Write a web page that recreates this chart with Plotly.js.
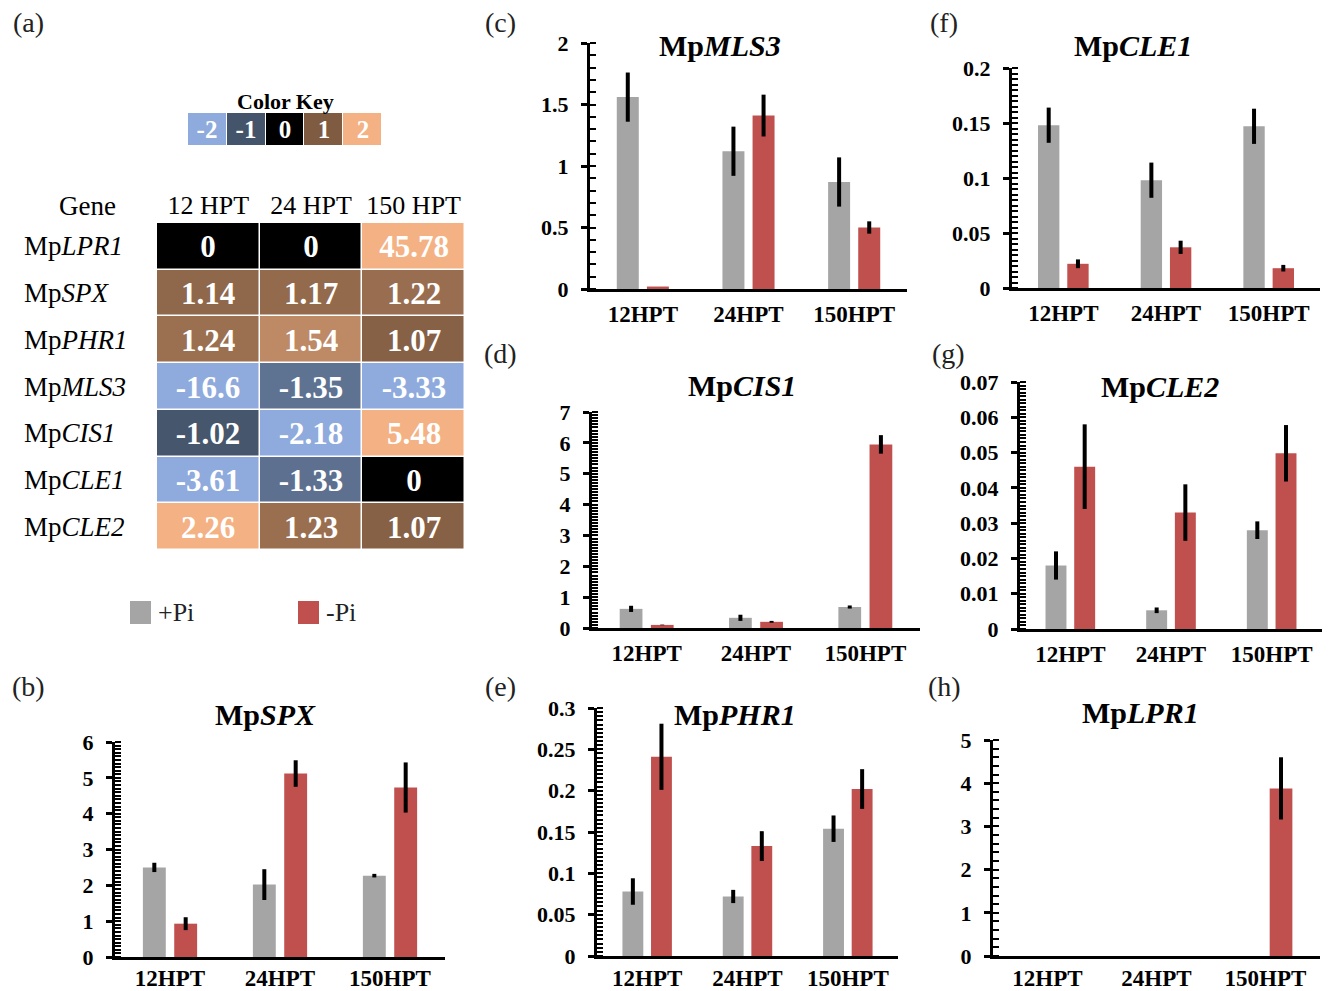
<!DOCTYPE html>
<html>
<head>
<meta charset="utf-8">
<script src="https://cdn.plot.ly/plotly-3.0.1.min.js"></script>
<style>html,body{margin:0;padding:0;background:#fff;}#chart{width:1330px;height:991px;}</style>
</head>
<body>
<div id="chart"></div>
<script>
// ---------- data ----------
const timepoints = ['12HPT', '24HPT', '150HPT'];

const spxPlus = [2.50, 2.02, 2.27];      const spxPlusErr = [0.13, 0.43, 0.05];
const spxMinus = [0.93, 5.12, 4.73];     const spxMinusErr = [0.18, 0.37, 0.70];

const mls3Plus = [1.56, 1.12, 0.87];     const mls3PlusErr = [0.20, 0.20, 0.20];
const mls3Minus = [0.02, 1.41, 0.50];    const mls3MinusErr = [0.0, 0.17, 0.05];

const cis1Plus = [0.62, 0.33, 0.68];     const cis1PlusErr = [0.10, 0.10, 0.05];
const cis1Minus = [0.10, 0.20, 5.95];    const cis1MinusErr = [0.01, 0.03, 0.30];

const phr1Plus = [0.078, 0.072, 0.154];  const phr1PlusErr = [0.016, 0.008, 0.016];
const phr1Minus = [0.241, 0.133, 0.202]; const phr1MinusErr = [0.040, 0.018, 0.024];

const cle1Plus = [0.148, 0.098, 0.147];  const cle1PlusErr = [0.016, 0.016, 0.016];
const cle1Minus = [0.022, 0.037, 0.018]; const cle1MinusErr = [0.004, 0.006, 0.003];

const cle2Plus = [0.018, 0.0053, 0.028]; const cle2PlusErr = [0.004, 0.0008, 0.0025];
const cle2Minus = [0.046, 0.033, 0.0498];const cle2MinusErr = [0.012, 0.008, 0.008];

const lpr1Plus = [0, 0, 0];              const lpr1PlusErr = [0, 0, 0];
const lpr1Minus = [0, 0, 3.88];          const lpr1MinusErr = [0, 0, 0.72];

const heatGenes = ['LPR1', 'SPX', 'PHR1', 'MLS3', 'CIS1', 'CLE1', 'CLE2'];
const heatCols = ['12 HPT', '24 HPT', '150 HPT'];
const heatText = [
  ['0', '0', '45.78'],
  ['1.14', '1.17', '1.22'],
  ['1.24', '1.54', '1.07'],
  ['-16.6', '-1.35', '-3.33'],
  ['-1.02', '-2.18', '5.48'],
  ['-3.61', '-1.33', '0'],
  ['2.26', '1.23', '1.07']
];
const keyValues = [-2, -1, 0, 1, 2];
const seriesNames = ['+Pi', '-Pi'];

// ---------- styling ----------
const W = 1330, H = 991;
const SERIF = 'Liberation Serif, Times New Roman, serif';
const GRAY = '#A5A5A5', RED = '#C0504D';
const px = v => v / W;
const py = v => 1 - v / H;

// panels: [key, gene, plus, plusErr, minus, minusErr, yMax, dtick, minorDtick, box(x0,x1,yTop,yBottom), titlePos, xLabelStandoff]
const panels = [
  ['1', 'SPX', spxPlus, spxPlusErr, spxMinus, spxMinusErr, 6, 1, 0.1, [115, 445, 742, 957], [265, 714], -2],
  ['2', 'MLS3', mls3Plus, mls3PlusErr, mls3Minus, mls3MinusErr, 2, 0.5, 0.1, [590, 907, 43, 289], [720, 46], 2],
  ['3', 'CIS1', cis1Plus, cis1PlusErr, cis1Minus, cis1MinusErr, 7, 1, 0.1, [592, 920, 412, 628], [742, 385], 2],
  ['4', 'PHR1', phr1Plus, phr1PlusErr, phr1Minus, phr1MinusErr, 0.3, 0.05, 0.005, [597, 898, 708, 956], [735, 714], -1],
  ['5', 'CLE1', cle1Plus, cle1PlusErr, cle1Minus, cle1MinusErr, 0.2, 0.05, 0.005, [1012, 1320, 68, 288], [1133, 45], 2],
  ['6', 'CLE2', cle2Plus, cle2PlusErr, cle2Minus, cle2MinusErr, 0.07, 0.01, 0.001, [1020, 1322, 382, 629], [1160, 387], 2],
  ['7', 'LPR1', lpr1Plus, lpr1PlusErr, lpr1Minus, lpr1MinusErr, 5, 1, 0.2, [993, 1320, 740, 956], [1140, 712], -1]
];

const data = [];
const layout = {
  width: W, height: H,
  margin: {l: 0, r: 0, t: 0, b: 0},
  paper_bgcolor: '#fff', plot_bgcolor: 'rgba(0,0,0,0)',
  showlegend: false,
  barmode: 'group',
  bargap: 0.43,
  bargroupgap: 0.27,
  font: {family: SERIF, color: '#000'},
  annotations: [],
  shapes: []
};

panels.forEach(p => {
  const [k, gene, plus, plusErr, minus, minusErr, yMax, dtick, minor, box, tpos, xso] = p;
  const xa = 'x' + (k === '1' ? '' : k), ya = 'y' + (k === '1' ? '' : k);
  [[plus, plusErr, GRAY, seriesNames[0]], [minus, minusErr, RED, seriesNames[1]]].forEach(s => {
    data.push({
      type: 'bar', x: timepoints, y: s[0], name: s[3],
      marker: {color: s[2]},
      error_y: {type: 'data', array: s[1], visible: true, color: '#000', thickness: 4, width: 0},
      xaxis: xa, yaxis: ya, hoverinfo: 'skip'
    });
  });
  const xKey = 'xaxis' + (k === '1' ? '' : k), yKey = 'yaxis' + (k === '1' ? '' : k);
  layout[xKey] = {
    domain: [px(box[0]), px(box[1])], anchor: ya,
    type: 'category', showgrid: false, zeroline: false,
    showline: true, linecolor: '#000', linewidth: 3,
    ticks: '', ticklabelstandoff: xso,
    tickfont: {family: SERIF, size: 23, weight: 'bold', color: '#000'},
    fixedrange: true
  };
  layout[yKey] = {
    domain: [py(box[3]), py(box[2])], anchor: xa,
    range: [0, yMax], dtick: dtick, tick0: 0,
    showgrid: false, zeroline: false,
    showline: true, linecolor: '#000', linewidth: 3,
    ticks: 'outside', ticklen: 6, tickwidth: 3, tickcolor: '#000',
    ticklabelstandoff: 8,
    minor: {dtick: minor, tick0: 0, ticks: 'inside', ticklen: 6, tickwidth: 2, tickcolor: '#000', showgrid: false},
    tickfont: {family: SERIF, size: 22, weight: 'bold', color: '#000'},
    fixedrange: true
  };
  layout.annotations.push({
    xref: 'paper', yref: 'paper', x: px(tpos[0]), y: py(tpos[1]),
    xanchor: 'center', yanchor: 'middle', showarrow: false,
    text: '<b>Mp<i>' + gene + '</i></b>',
    font: {family: SERIF, size: 30, color: '#000'}
  });
});

// ---------- heatmap (a) ----------
const heatZ = heatText.map(r => r.map(Number));
const colorscale = [[0, '#8FAADC'], [0.25, '#44546A'], [0.5, '#000000'], [0.75, '#7F5B41'], [1, '#F4B183']];
data.push({
  type: 'heatmap', x: heatCols, y: heatGenes, z: heatZ, text: heatText,
  texttemplate: '%{text}',
  textfont: {family: SERIF, size: 31, weight: 'bold', color: '#fff'},
  colorscale: colorscale, zmin: -2, zmax: 2, showscale: false,
  xgap: 1.5, ygap: 1.5, xaxis: 'x8', yaxis: 'y8', hoverinfo: 'skip'
});
layout.xaxis8 = {
  domain: [px(157), px(465)], anchor: 'y8', side: 'top', type: 'category',
  showgrid: false, zeroline: false, showline: false, ticks: '', ticklabelstandoff: 3,
  tickfont: {family: SERIF, size: 26, color: '#000'}, fixedrange: true
};
layout.yaxis8 = {
  domain: [py(550), py(223)], anchor: 'x8', type: 'category', autorange: 'reversed',
  showgrid: false, zeroline: false, showline: false, ticks: '', showticklabels: false, fixedrange: true
};
heatGenes.forEach(g => {
  layout.annotations.push({
    xref: 'paper', yref: 'y8', x: px(22), y: g, xanchor: 'left', yanchor: 'middle',
    showarrow: false, text: 'Mp<i>' + g + '</i>',
    font: {family: SERIF, size: 27, color: '#000'}
  });
});
layout.annotations.push({
  xref: 'paper', yref: 'paper', x: px(88), y: py(206), xanchor: 'center', yanchor: 'middle',
  showarrow: false, text: 'Gene', font: {family: SERIF, size: 27, color: '#000'}
});

// ---------- color key ----------
data.push({
  type: 'heatmap', x: keyValues.map(String), y: ['key'], z: [keyValues], text: [keyValues.map(String)],
  texttemplate: '%{text}',
  textfont: {family: SERIF, size: 25, weight: 'bold', color: '#fff'},
  colorscale: colorscale, zmin: -2, zmax: 2, showscale: false,
  xgap: 1, xaxis: 'x9', yaxis: 'y9', hoverinfo: 'skip'
});
layout.xaxis9 = {domain: [px(188), px(382)], anchor: 'y9', type: 'category', visible: false, fixedrange: true};
layout.yaxis9 = {domain: [py(145), py(113)], anchor: 'x9', type: 'category', visible: false, fixedrange: true};
layout.annotations.push({
  xref: 'paper', yref: 'paper', x: px(285), y: py(101), xanchor: 'center', yanchor: 'middle',
  showarrow: false, text: '<b>Color Key</b>', font: {family: SERIF, size: 22, color: '#000'}
});

// ---------- legend ----------
[[130, GRAY, seriesNames[0]], [298, RED, seriesNames[1]]].forEach(l => {
  layout.shapes.push({
    type: 'rect', xref: 'paper', yref: 'paper',
    x0: px(l[0]), x1: px(l[0] + 21), y0: py(624), y1: py(601),
    fillcolor: l[1], line: {width: 0}
  });
  layout.annotations.push({
    xref: 'paper', yref: 'paper', x: px(l[0] + 26), y: py(612), xanchor: 'left', yanchor: 'middle',
    showarrow: false, text: l[2], font: {family: SERIF, size: 26, color: '#222'}
  });
});

// ---------- panel letters ----------
[['(a)', 28, 22], ['(b)', 28, 686], ['(c)', 500, 22], ['(d)', 500, 354], ['(e)', 500, 686],
 ['(f)', 944, 22], ['(g)', 948, 354], ['(h)', 944, 686]].forEach(t => {
  layout.annotations.push({
    xref: 'paper', yref: 'paper', x: px(t[1]), y: py(t[2]), xanchor: 'center', yanchor: 'middle',
    showarrow: false, text: t[0], font: {family: SERIF, size: 28, color: '#222'}
  });
});

Plotly.newPlot('chart', data, layout, {staticPlot: true, displayModeBar: false});
</script>
</body>
</html>
